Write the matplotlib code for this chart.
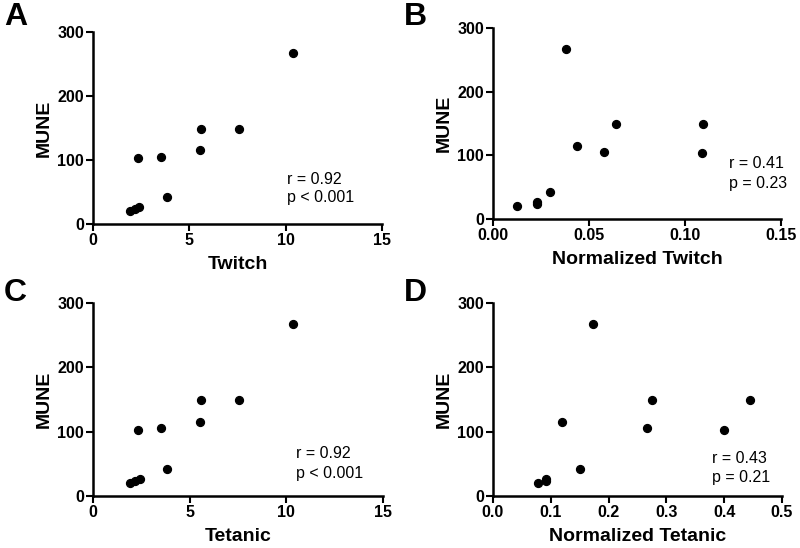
import matplotlib.pyplot as plt
import numpy as np

plt.rcParams['font.family'] = ['Liberation Sans', 'DejaVu Sans']

# MUNE values (same subjects in every panel)
mune = [20, 24, 27, 103, 105, 42, 149, 115, 149, 267]

twitch = [1.93, 2.18, 2.40, 2.34, 3.51, 3.84, 5.62, 5.57, 7.56, 10.37]
norm_twitch = [0.0125, 0.0229, 0.0229, 0.1088, 0.0577, 0.0296, 0.0643, 0.044, 0.1095, 0.0379]
tetanic = [1.93, 2.16, 2.41, 2.35, 3.52, 3.83, 5.59, 5.55, 7.55, 10.36]
norm_tetanic = [0.078, 0.0925, 0.091, 0.400, 0.266, 0.150, 0.2746, 0.1197, 0.444, 0.1734]

letters = ['A', 'B', 'C', 'D']
xlabels = ['Twitch', 'Normalized Twitch', 'Tetanic', 'Normalized Tetanic']
r_text = ['r = 0.92', 'r = 0.41', 'r = 0.92', 'r = 0.43']
p_text = ['p < 0.001', 'p = 0.23', 'p < 0.001', 'p = 0.21']
xmax = [15, 0.15, 15, 0.5]
xticks = [[0, 5, 10, 15], [0.00, 0.05, 0.10, 0.15], [0, 5, 10, 15], [0.0, 0.1, 0.2, 0.3, 0.4, 0.5]]
xfmt = ['{:.0f}', '{:.2f}', '{:.0f}', '{:.1f}']
xdata = [twitch, norm_twitch, tetanic, norm_tetanic]

W, H = 800, 548
fig = plt.figure(figsize=(W / 100, H / 100), dpi=100)

# pixel boxes: left, right, top, bottom
boxes = [(93, 382, 32, 224), (493, 781, 28, 219), (93, 383, 303, 496), (493, 782, 303, 496)]
txtpos = [(0.671, 0.234, 0.14), (0.819, 0.293, 0.188), (0.70, 0.218, 0.119), (0.758, 0.192, 0.098)]
letterpos = [(4, 2), (404, 2), (4, 278), (404, 278)]

for i in range(4):
    l, r, t, b = boxes[i]
    ax = fig.add_axes([l / W, 1 - b / H, (r - l) / W, (b - t) / H])
    ax.scatter(xdata[i], mune, s=32, color='black', zorder=3, clip_on=False)
    ax.set_xlim(0, xmax[i])
    ax.set_ylim(0, 300)
    ax.set_xticks(xticks[i])
    ax.set_xticklabels([xfmt[i].format(v) for v in xticks[i]])
    ax.set_yticks([0, 100, 200, 300])
    for s in ['top', 'right']:
        ax.spines[s].set_visible(False)
    for s in ['left', 'bottom']:
        ax.spines[s].set_linewidth(1.8)
    ax.tick_params(direction='out', length=5, width=1.5, labelsize=11.5, pad=1.5)
    for lab in ax.get_xticklabels() + ax.get_yticklabels():
        lab.set_fontweight('bold')
    ax.set_xlabel(xlabels[i], fontsize=14, fontweight='bold', labelpad=6)
    ax.set_ylabel('MUNE', fontsize=14, fontweight='bold', labelpad=3)
    tx, ty1, ty2 = txtpos[i]
    ax.text(tx, ty1, r_text[i], transform=ax.transAxes, fontsize=11.5, va='center', ha='left')
    ax.text(tx, ty2, p_text[i], transform=ax.transAxes, fontsize=11.5, va='center', ha='left')
    lx, ly = letterpos[i]
    fig.text(lx / W, 1 - ly / H, letters[i], fontsize=23, fontweight='bold', va='top', ha='left')

fig.savefig('out.png', dpi=100)
